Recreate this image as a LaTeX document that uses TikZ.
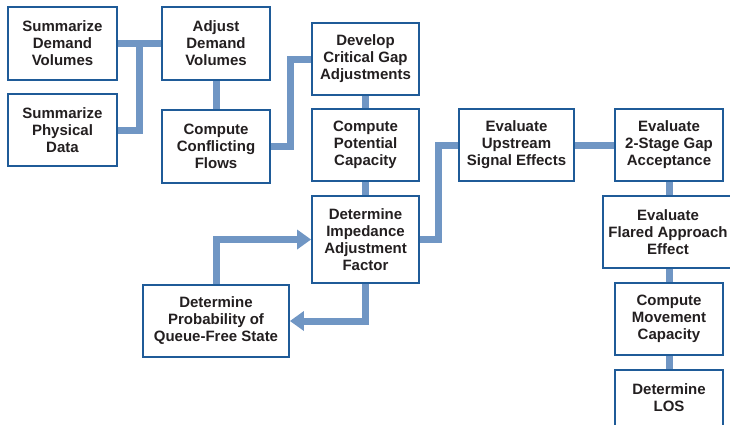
\documentclass[tikz,border=0pt]{standalone}
\usepackage{fontspec}
\setmainfont{Liberation Sans}
\usepackage{xcolor}
\usetikzlibrary{arrows.meta,positioning,calc}
\definecolor{boxblue}{HTML}{1F5B98}
\definecolor{linkblue}{HTML}{7096C4}
\definecolor{textgray}{HTML}{231F20}

\begin{document}
\begin{tikzpicture}[
  x=1pt,y=-1pt,
  stepbox/.style={draw=boxblue,line width=1.8pt,fill=white,align=center,
    text=textgray,font=\fontsize{15}{17}\selectfont\bfseries,
    minimum width=108pt,minimum height=72pt,inner sep=2pt},
  link/.style={draw=linkblue,line width=7pt,line join=miter},
  flow/.style={link,-{Triangle[length=14pt,width=19pt]}}
]
\useasboundingbox (0,0) rectangle (730,424);
\clip (0,0) rectangle (730,424);

% input summaries
\node[stepbox,minimum width=109pt,minimum height=73pt] (dem) at (62.5,43.5)
  {Summarize\\Demand\\Volumes};
\node[stepbox,minimum width=109pt] (phys) at (62.5,130)
  {Summarize\\Physical\\Data};
\node[stepbox,minimum height=73pt] (adj) at (216,43.5)
  {Adjust\\Demand\\Volumes};
\node[stepbox,minimum height=73pt] (conf) at (216,146.5)
  {Compute\\Conflicting\\Flows};

% gap and capacity chain
\node[stepbox,minimum width=107pt] (gap) at (365.5,59)
  {Develop\\Critical Gap\\Adjustments};
\node[stepbox,minimum width=107pt] (pot) at (365.5,145)
  {Compute\\Potential\\Capacity};
\node[stepbox,minimum width=107pt,minimum height=87pt] (imp) at (365.5,239.5)
  {Determine\\Impedance\\Adjustment\\Factor};
\node[stepbox,minimum width=146pt] (queue) at (216,321)
  {Determine\\Probability of\\Queue-Free State};

% right-hand column
\node[stepbox,minimum width=115pt] (ups) at (516.5,145)
  {Evaluate\\Upstream\\Signal Effects};
\node[stepbox] (two) at (669,145)
  {Evaluate\\2-Stage Gap\\Acceptance};
\node[stepbox,minimum width=130pt] (flare) at (668,232)
  {Evaluate\\Flared Approach\\Effect};
\node[stepbox] (move) at (669,319)
  {Compute\\Movement\\Capacity};
\node[stepbox,minimum height=56pt] (los) at (669,398)
  {Determine\\LOS};

% connectors
\draw[link] (dem.east) -- (adj.west);
\draw[link] (phys.east) -| ($(dem.east)!0.5!(adj.west)$);
\draw[link] (adj.south) -- (conf.north);
\draw[link] (conf.east) -- ++(20,0) |- (gap.west);
\draw[link] (gap.south) -- (pot.north);
\draw[link] (pot.south) -- (imp.north);
\draw[flow] (queue.north) |- (imp.west);
\draw[flow] (imp.south) |- (queue.east);
\draw[link] (imp.east) -- ++(19,0) |- (ups.west);
\draw[link] (ups.east) -- (two.west);
\draw[link] (two.south) -- (two.south |- flare.north);
\draw[link] (flare.south -| move.north) -- (move.north);
\draw[link] (move.south) -- (los.north);
\end{tikzpicture}
\end{document}
